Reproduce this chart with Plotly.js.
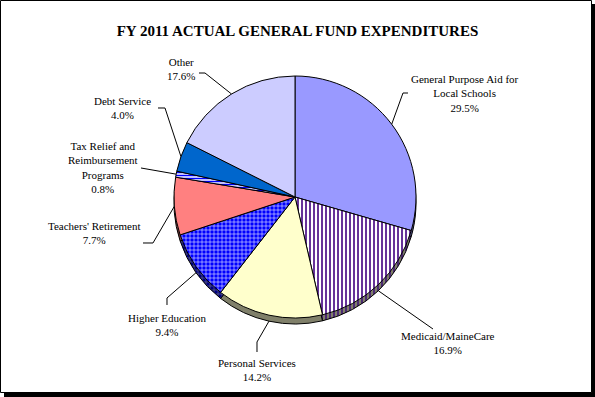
<!DOCTYPE html>
<html><head><meta charset="utf-8">
<script src="https://cdn.plot.ly/plotly-3.0.1.min.js"></script>
<style>html,body{margin:0;padding:0;background:#fff;} #chart{width:595px;height:397px;}</style>
</head><body><div id="chart"></div>
<script>
// ---- data ----
const chartTitle = 'FY 2011 ACTUAL GENERAL FUND EXPENDITURES';
const categories = ['General Purpose Aid for Local Schools', 'Medicaid/MaineCare', 'Personal Services',
  'Higher Education', "Teachers' Retirement", 'Tax Relief and Reimbursement Programs', 'Debt Service', 'Other'];
const labelLines = [['General Purpose Aid for', 'Local Schools'], ['Medicaid/MaineCare'], ['Personal Services'],
  ['Higher Education'], ["Teachers' Retirement"], ['Tax Relief and', 'Reimbursement', 'Programs'], ['Debt Service'], ['Other']];
const shares = [29.5, 16.9, 14.2, 9.4, 7.7, 0.8, 4.0, 17.6];

// ---- styles ----
const faceColors = ['#9999FF', '#FFFFFF', '#FFFFCC', '#0000FF', '#FF8080', '#FFFFFF', '#0066CC', '#CCCCFF'];
const faceFg     = ['#000000', '#663399', '#000000', '#FFFFFF', '#000000', '#0000FF', '#000000', '#000000'];
const sideColors = ['#4C4C80', '#80806A', '#80806A', '#000080', '#804040', '#808080', '#003366', '#666680'];
const sideFg     = ['#000000', '#4B2A73', '#000000', '#80807F', '#000000', '#000080', '#000000', '#000000'];
const shapesPat  = ['', '|', '', '+', '', '-', '', ''];
const patSize    = [4, 4, 4, 4, 4, 3, 4, 4];
const patSolid   = [0.3, 0.5, 0.3, 0.25, 0.3, 0.5, 0.3, 0.3];

const W = 595, H = 397;
const cx = 295, cy = 197, R = 121, depth = 6;
const px = x => x / W, py = y => 1 - y / H;
const SERIF = 'Liberation Serif';

// label block centres and leader stubs (layout, px)
const labelPos = [[465, 93], [448, 343], [257, 370], [167, 325], [95, 233], [103, 167], [122, 108], [181, 69]];
const stubs = [
  [[408, 93], [403, 93]],
  [[433, 329]],
  [[257, 352], [257, 342]],
  [[167, 305], [167, 298]],
  [[143, 243], [153, 243]],
  [[141, 168]],
  [[158, 108], [165, 108]],
  [[199, 73], [205, 73]]
];
const anchorDepth = [0, depth, depth, depth, 0, 0, 0, 0];

const total = shares.reduce((a, b) => a + b, 0);
const dom = {x: [px(cx - R), px(cx + R)], y: [py(cy + R), py(cy - R)]};
const domSide = {x: dom.x, y: [py(cy + R + depth), py(cy - R + depth)]};

const common = {
  type: 'pie', labels: categories, values: shares, sort: false, direction: 'clockwise', rotation: 0,
  textinfo: 'none', hoverinfo: 'skip', showlegend: false
};
const side = Object.assign({}, common, {
  domain: domSide,
  marker: {colors: sideColors, line: {color: '#000', width: 1},
    pattern: {shape: shapesPat, fgcolor: sideFg, bgcolor: sideColors, size: patSize, solidity: patSolid}}
});
const face = Object.assign({}, common, {
  domain: dom,
  marker: {colors: faceColors, line: {color: '#000', width: 1},
    pattern: {shape: shapesPat, fgcolor: faceFg, bgcolor: faceColors, size: patSize, solidity: patSolid}}
});

const annotations = [];
const shapes = [
  {type: 'rect', xref: 'paper', yref: 'paper', layer: 'below', x0: px(4), x1: px(596), y0: py(398), y1: py(4),
    fillcolor: '#000', line: {width: 0}},
  {type: 'rect', xref: 'paper', yref: 'paper', layer: 'below', x0: px(0.5), x1: px(591.5), y0: py(392.5), y1: py(0.5),
    fillcolor: '#fff', line: {color: '#000', width: 1}}
];
let cum = 0;
shares.forEach((v, i) => {
  const mid = (cum + v / 2) / total * 2 * Math.PI;
  cum += v;
  const ax = cx + R * Math.sin(mid), ay = cy - R * Math.cos(mid) + anchorDepth[i];
  const pts = stubs[i].concat([[ax, ay]]);
  const path = pts.map((p, k) => (k ? 'L' : 'M') + px(p[0]).toFixed(5) + ',' + py(p[1]).toFixed(5)).join(' ');
  shapes.push({type: 'path', xref: 'paper', yref: 'paper', layer: 'above', path: path, line: {color: '#000', width: 1}});
  annotations.push({
    xref: 'paper', yref: 'paper', x: px(labelPos[i][0]), y: py(labelPos[i][1]), xanchor: 'center', yanchor: 'middle',
    showarrow: false, font: {family: SERIF, size: 11, color: '#000'}, align: 'center',
    text: labelLines[i].concat([v.toFixed(1) + '%']).join('<br>')
  });
});

const layout = {
  width: W, height: H, margin: {l: 0, r: 0, t: 0, b: 0}, paper_bgcolor: '#fff',
  font: {family: SERIF, color: '#000'},
  title: {text: '<b>' + chartTitle + '</b>', x: 0.5, xref: 'paper', y: py(31), yref: 'container', yanchor: 'middle',
    font: {family: SERIF, size: 15, color: '#000'}},
  shapes: shapes, annotations: annotations
};
Plotly.newPlot('chart', [side, face], layout, {staticPlot: true, displayModeBar: false});
</script></body></html>
